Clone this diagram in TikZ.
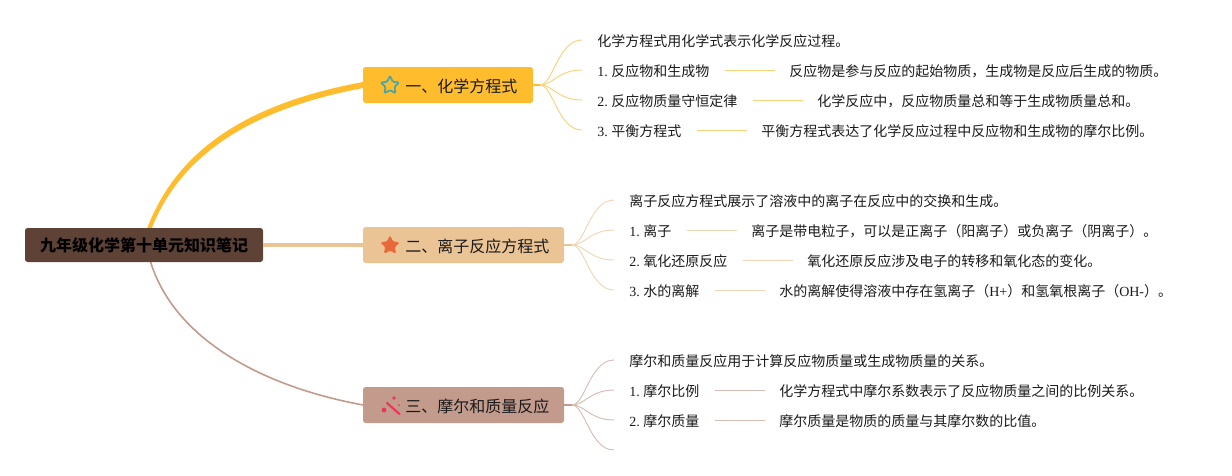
\documentclass[tikz,border=0pt]{standalone}
\usepackage{fontspec}
\usetikzlibrary{shapes.geometric}
\setmainfont{Liberation Serif}
\newfontfamily\cjk{Noto Sans CJK SC}
\newcommand{\zh}[1]{{\cjk #1}}
\newcommand{\num}[1]{#1.\kern2.7pt}
\definecolor{rootc}{HTML}{5F4236}
\definecolor{ca}{HTML}{FFBD2E}
\definecolor{cb}{HTML}{EAC495}
\definecolor{cc}{HTML}{C39B8D}
\definecolor{la}{HTML}{FBD27A}
\definecolor{lb}{HTML}{F0D6B5}
\definecolor{lc}{HTML}{D6BDB4}
\definecolor{txt}{HTML}{1A1A1A}
\definecolor{tealstar}{HTML}{4AA6A6}
\definecolor{orangestar}{HTML}{E8683A}
\definecolor{wand}{HTML}{E8375A}
\tikzset{
 rootbox/.style={fill=rootc,rounded corners=2pt,anchor=center,text=black,font=\cjk\fontsize{12}{12}\selectfont\bfseries,minimum width=178.5pt,minimum height=25.5pt,inner sep=0pt},
 branchbox/.style={rounded corners=2pt,anchor=center,text=txt,minimum height=27pt,inner sep=0pt},
 branchtext/.style={anchor=west,inner sep=0pt,text=txt,yshift=-0.75pt,font=\cjk\fontsize{12}{12}\selectfont},
 leaf/.style={anchor=west,inner sep=0pt,text=txt,yshift=-0.75pt,font=\fontsize{10.5}{10.5}\selectfont},
 fan/.style={line width=0.7pt},
 dash line/.style={line width=0.75pt},
 icon/.style={star,star points=5,star point ratio=2.1,inner sep=0pt,minimum size=14.5pt,rounded corners=1pt},
 wandline/.style={wand,line width=1.6pt,line cap=round},
}
\newcommand{\link}[3]{\draw[#1,dash line] ([xshift=11.25pt,yshift=0.75pt]#2.east) -- ([xshift=-10.5pt,yshift=0.75pt]#3.west);}
\begin{document}
\begin{tikzpicture}[x=0.75pt,y=-0.75pt]
\useasboundingbox (0,0) rectangle (1232,475);
% main connectors
\fill[ca] (146.5,230) .. controls (178,145) and (255,102) .. (363,82) -- (363,88) .. controls (258,108) and (182,150) .. (151,230) -- cycle;
\draw[cc,line width=1.2pt] (150,260) .. controls (172,335) and (255,385) .. (363,405);
% root and branches
\node[rootbox] (root) at (144,245) {\raisebox{-0.75pt}{九年级化学第十单元知识笔记}};
\node[branchbox,fill=ca,minimum width=127.5pt] (b1) at (448,85) {};
\node[branchbox,fill=cb,minimum width=150.75pt] (b2) at (463.5,245) {};
\node[branchbox,fill=cc,minimum width=150.75pt] (b3) at (463.5,405) {};
\node[branchtext] (b1t) at (405,85) {一、化学方程式};
\node[branchtext] (b2t) at (405,245) {二、离子反应方程式};
\node[branchtext] (b3t) at (405,405) {三、摩尔和质量反应};
\draw[cb,line width=2.4pt] (root.east) -- (b2.west);
% icons
\node[icon,draw=tealstar,line width=1.3pt,fill=ca] (i1) at (390,85.5) {};
\node[icon,fill=orangestar,draw=orangestar,line width=0.5pt] (i2) at (390,245.5) {};
\draw[wandline] (387,403) -- (399.5,414);
\fill[wand] (384,410) circle (2.4);
\fill[wand] (394,398) circle (1.8);
\fill[wand] (399,405) circle (1);
% fans
\coordinate (f1) at (540,85);
\draw[ca,line width=1.1pt] (b1.east) -- (f1);
\coordinate (e11) at (582,40);\coordinate (e12) at (582,70);\coordinate (e13) at (582,100);\coordinate (e14) at (582,130);
\foreach \e in {e11,e12,e13,e14}{\draw[la,fan] (f1) .. controls (553,85) and (558,0 |- \e) .. (\e);}
\coordinate (f2) at (572,245);
\draw[cb,line width=1.1pt] (b2.east) -- (f2);
\coordinate (e21) at (614,200);\coordinate (e22) at (614,230);\coordinate (e23) at (614,260);\coordinate (e24) at (614,290);
\foreach \e in {e21,e22,e23,e24}{\draw[lb,fan] (f2) .. controls (585,245) and (590,0 |- \e) .. (\e);}
\coordinate (f3) at (572,405);
\draw[cc,line width=1.1pt] (b3.east) -- (f3);
\coordinate (e31) at (614,360);\coordinate (e32) at (614,390);\coordinate (e33) at (614,420);\coordinate (e34) at (614,450);
\foreach \e in {e31,e32,e33,e34}{\draw[lc,fan] (f3) .. controls (585,405) and (590,0 |- \e) .. (\e);}
% leaves 1
\node[leaf] (a0) at (597,40) {\zh{化学方程式用化学式表示化学反应过程。}};
\node[leaf] (a1) at (597,70) {\num{1}\zh{反应物和生成物}};
\node[leaf] (a1d) at (789,70) {\zh{反应物是参与反应的起始物质，生成物是反应后生成的物质。}};
\node[leaf] (a2) at (597,100) {\num{2}\zh{反应物质量守恒定律}};
\node[leaf] (a2d) at (817,100) {\zh{化学反应中，反应物质量总和等于生成物质量总和。}};
\node[leaf] (a3) at (597,130) {\num{3}\zh{平衡方程式}};
\node[leaf] (a3d) at (761,130) {\zh{平衡方程式表达了化学反应过程中反应物和生成物的摩尔比例。}};
\link{la}{a1}{a1d}
\link{la}{a2}{a2d}
\link{la}{a3}{a3d}
% leaves 2
\node[leaf] (b0) at (629,200) {\zh{离子反应方程式展示了溶液中的离子在反应中的交换和生成。}};
\node[leaf] (b1l) at (629,230) {\num{1}\zh{离子}};
\node[leaf] (b1d) at (751,230) {\zh{离子是带电粒子，可以是正离子（阳离子）或负离子（阴离子）。}};
\node[leaf] (b2l) at (629,260) {\num{2}\zh{氧化还原反应}};
\node[leaf] (b2d) at (807,260) {\zh{氧化还原反应涉及电子的转移和氧化态的变化。}};
\node[leaf] (b3l) at (629,290) {\num{3}\zh{水的离解}};
\node[leaf] (b3d) at (779,290) {\zh{水的离解使得溶液中存在氢离子（}H+\zh{）和氢氧根离子（}OH-\zh{）。}};
\link{lb}{b1l}{b1d}
\link{lb}{b2l}{b2d}
\link{lb}{b3l}{b3d}
% leaves 3
\node[leaf] (c0) at (629,360) {\zh{摩尔和质量反应用于计算反应物质量或生成物质量的关系。}};
\node[leaf] (c1) at (629,390) {\num{1}\zh{摩尔比例}};
\node[leaf] (c1d) at (779,390) {\zh{化学方程式中摩尔系数表示了反应物质量之间的比例关系。}};
\node[leaf] (c2) at (629,420) {\num{2}\zh{摩尔质量}};
\node[leaf] (c2d) at (779,420) {\zh{摩尔质量是物质的质量与其摩尔数的比值。}};
\link{lc}{c1}{c1d}
\link{lc}{c2}{c2d}
\end{tikzpicture}
\end{document}
